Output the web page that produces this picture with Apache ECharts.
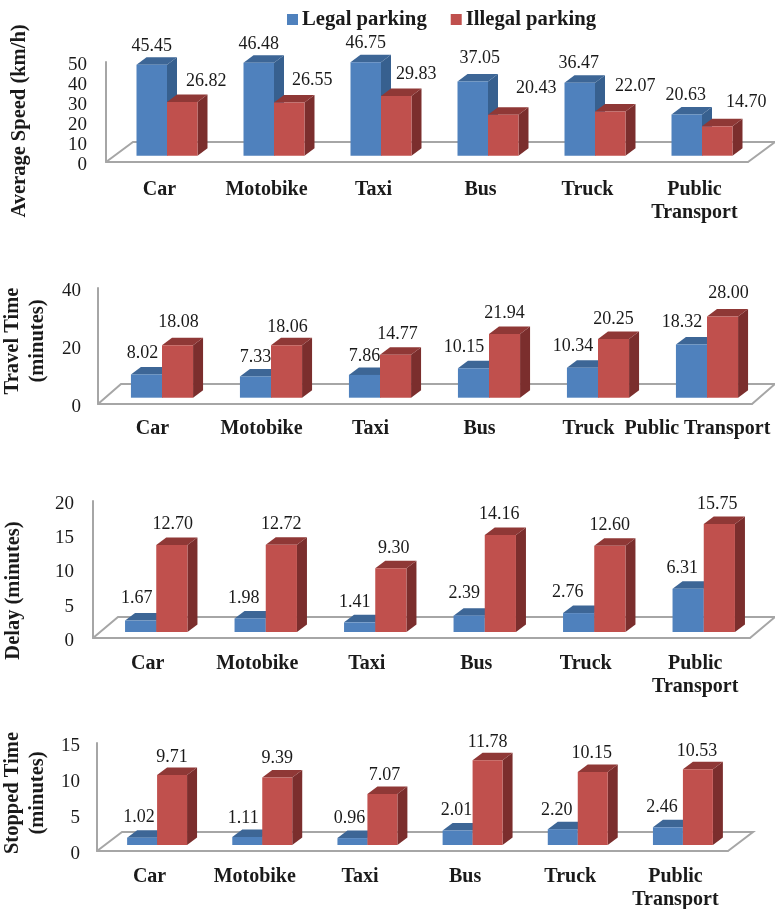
<!DOCTYPE html>
<html>
<head>
<meta charset="utf-8">
<title>Parking</title>
<script src="https://cdn.jsdelivr.net/npm/echarts@6/dist/echarts.min.js"></script>
<style>
html, body { margin: 0; padding: 0; background: #fff; }
#chart { width: 775px; height: 909px; }
</style>
</head>
<body>
<div id="chart"></div>
<script>
const seriesNames = ['Legal parking', 'Illegal parking']
const categories = ['Car', 'Motobike', 'Taxi', 'Bus', 'Truck', 'Public\nTransport']
const categoriesOneLine = ['Car', 'Motobike', 'Taxi', 'Bus', 'Truck', 'Public Transport']

const speedLegal = [45.45, 46.48, 46.75, 37.05, 36.47, 20.63]
const speedIllegal = [26.82, 26.55, 29.83, 20.43, 22.07, 14.70]
const travelLegal = [8.02, 7.33, 7.86, 10.15, 10.34, 18.32]
const travelIllegal = [18.08, 18.06, 14.77, 21.94, 20.25, 28.00]
const delayLegal = [1.67, 1.98, 1.41, 2.39, 2.76, 6.31]
const delayIllegal = [12.70, 12.72, 9.30, 14.16, 12.60, 15.75]
const stoppedLegal = [1.02, 1.11, 0.96, 2.01, 2.20, 2.46]
const stoppedIllegal = [9.71, 9.39, 7.07, 11.78, 10.15, 10.53]

const FONT = 'Liberation Serif'
const AXIS_GRAY = '#a6a6a6'
const BLUE = { front: '#4f81bd', side: '#37608f', top: '#3d6696' }
const RED = { front: '#c0504d', side: '#7b2e2d', top: '#8f3836' }
const DEPTH_X = 10
const DEPTH_Y = 7.5

// one entry per panel, shift = where the value labels sit relative to the top of the bar
const panels = [
  {
    title: 'Average Speed (km/h)', titleGap: 74, titlePad: [0, 18, 0, 0],
    left: 106, top: 62, right: 748, bottom: 162, max: 50, interval: 10, tickMargin: 19, catMargin: 16,
    floor: { x: 27, y: 20 }, lift: { x: 7.5, y: 6.3 },
    cats: categories, legal: speedLegal, illegal: speedIllegal,
    legalShift: [[0, -19], [0, -18], [0, -19], [7, -23], [-1, -19], [-1, -19]],
    illegalShift: [[24, -21], [23, -22], [20, -22], [33, -27], [25, -25], [29, -24]]
  },
  {
    title: 'Travel Time\n(minutes)', titleGap: 48, titlePad: [0, 0, 0, 10],
    left: 98, top: 288, right: 752, bottom: 404, max: 40, interval: 20, tickMargin: 17, catMargin: 13,
    floor: { x: 23, y: 20 }, lift: { x: 9.5, y: 6.3 },
    cats: categoriesOneLine, legal: travelLegal, illegal: travelIllegal,
    legalShift: [[-4, -21], [0, -19], [0, -19], [-9.5, -21], [-9.5, -21], [-9.5, -22]],
    illegalShift: [[1, -23], [1, -18], [2, -21], [0, -21], [0, -20], [6, -23]]
  },
  {
    title: 'Delay (minutes)', titleGap: 67, titlePad: [0, 42, 0, 0],
    left: 93, top: 501, right: 750, bottom: 638, max: 20, interval: 5, tickMargin: 19, catMargin: 14,
    floor: { x: 25, y: 21 }, lift: { x: 8.5, y: 6 },
    cats: categories, legal: delayLegal, illegal: delayIllegal,
    legalShift: [[-4, -22], [-6.5, -20], [-5, -20], [-5, -22], [-11, -21], [-6, -21]],
    illegalShift: [[1, -21], [0, -21], [3, -20], [-1, -21], [0, -20], [-2, -20]]
  },
  {
    title: 'Stopped Time\n(minutes)', titleGap: 47, titlePad: [0, 0, 0, 8],
    left: 97, top: 743, right: 728, bottom: 851, max: 15, interval: 5, tickMargin: 17, catMargin: 14,
    floor: { x: 25, y: 19 }, lift: { x: 7.5, y: 6 },
    cats: categories, legal: stoppedLegal, illegal: stoppedIllegal,
    legalShift: [[-3, -20], [-4, -19], [-3, -20], [-1, -20], [-6, -19], [-6, -20]],
    illegalShift: [[0, -18], [0, -19], [2, -19], [0, -18], [-1, -19], [-1, -18]]
  }
]

// back wall line and the two diagonals of the floor
function renderFloor(panel) {
  return function (params) {
    const cs = params.coordSys
    const bottom = cs.y + cs.height
    const right = cs.x + cs.width
    const lineStyle = { stroke: AXIS_GRAY, lineWidth: 2, fill: null }
    return {
      type: 'polyline',
      shape: {
        points: [
          [cs.x, bottom],
          [cs.x + panel.floor.x, bottom - panel.floor.y],
          [right + panel.floor.x, bottom - panel.floor.y],
          [right, bottom]
        ]
      },
      style: lineStyle,
      silent: true
    }
  }
}

// 3d looking bar: front, side and top faces, all from the axis scales
function renderBar(panel, side, colors, shifts) {
  return function (params, api) {
    const idx = api.value(0)
    const band = api.size([1, 0])[0]
    const w = band * 0.285
    const topPt = api.coord([idx, api.value(1)])
    const basePt = api.coord([idx, 0])
    const x0 = topPt[0] + panel.lift.x + (side < 0 ? -w : 0)
    const x1 = x0 + w
    const y0 = topPt[1] - panel.lift.y
    const y1 = basePt[1] - panel.lift.y
    const shift = shifts[params.dataIndex]
    return {
      type: 'group',
      children: [
        {
          type: 'polygon',
          shape: { points: [[x1, y0], [x1 + DEPTH_X, y0 - DEPTH_Y], [x1 + DEPTH_X, y1 - DEPTH_Y], [x1, y1]] },
          style: { fill: colors.side }
        },
        {
          type: 'polygon',
          shape: { points: [[x0, y0], [x0 + DEPTH_X, y0 - DEPTH_Y], [x1 + DEPTH_X, y0 - DEPTH_Y], [x1, y0]] },
          style: { fill: colors.top }
        },
        {
          type: 'rect',
          shape: { x: x0, y: y0, width: w, height: y1 - y0 },
          style: { fill: colors.front }
        },
        {
          type: 'text',
          z2: 50,
          style: {
            x: (x0 + x1) / 2 + shift[0],
            y: y0 + shift[1],
            text: api.value(1).toFixed(2),
            fill: '#1a1a1a',
            font: '18px "' + FONT + '"',
            align: 'center',
            verticalAlign: 'middle'
          }
        }
      ]
    }
  }
}

const grids = []
const xAxes = []
const yAxes = []
const series = []

panels.forEach(function (panel, i) {
  grids.push({
    left: panel.left,
    top: panel.top,
    width: panel.right - panel.left,
    height: panel.bottom - panel.top,
    outerBoundsMode: 'none'
  })
  xAxes.push({
    type: 'category',
    gridIndex: i,
    data: panel.cats,
    axisTick: { show: false },
    axisLine: { lineStyle: { color: AXIS_GRAY, width: 2 } },
    axisLabel: {
      interval: 0,
      margin: panel.catMargin,
      color: '#1a1a1a',
      fontFamily: FONT,
      fontWeight: 'bold',
      fontSize: 20,
      lineHeight: 23
    }
  })
  yAxes.push({
    type: 'value',
    gridIndex: i,
    min: 0,
    max: panel.max,
    interval: panel.interval,
    name: panel.title,
    nameLocation: 'middle',
    nameRotate: 90,
    nameGap: panel.titleGap,
    nameTextStyle: {
      color: '#1a1a1a',
      fontFamily: FONT,
      fontWeight: 'bold',
      fontSize: 20.5,
      lineHeight: 25,
      padding: panel.titlePad
    },
    splitLine: { show: false },
    axisTick: { show: false },
    axisLine: { show: true, lineStyle: { color: AXIS_GRAY, width: 2 } },
    axisLabel: {
      margin: panel.tickMargin,
      color: '#1a1a1a',
      fontFamily: FONT,
      fontSize: 19,
      verticalAlign: 'top',
      lineHeight: 6
    }
  })
  series.push({
    type: 'custom',
    xAxisIndex: i,
    yAxisIndex: i,
    silent: true,
    data: [[0, 0]],
    renderItem: renderFloor(panel)
  })
  series.push({
    type: 'custom',
    name: seriesNames[0],
    xAxisIndex: i,
    yAxisIndex: i,
    itemStyle: { color: BLUE.front },
    data: panel.legal.map(function (v, k) { return [k, v] }),
    renderItem: renderBar(panel, -1, BLUE, panel.legalShift)
  })
  series.push({
    type: 'custom',
    name: seriesNames[1],
    xAxisIndex: i,
    yAxisIndex: i,
    itemStyle: { color: RED.front },
    data: panel.illegal.map(function (v, k) { return [k, v] }),
    renderItem: renderBar(panel, 1, RED, panel.illegalShift)
  })
})

const chart = echarts.init(document.getElementById('chart'))
chart.setOption({
  animation: false,
  backgroundColor: '#fff',
  legend: {
    data: seriesNames,
    left: 287,
    top: 9,
    padding: 0,
    icon: 'rect',
    itemWidth: 11,
    itemHeight: 11,
    itemGap: 24,
    textStyle: { color: '#1a1a1a', fontFamily: FONT, fontWeight: 'bold', fontSize: 20.7, padding: [0, 0, 0, -1] }
  },
  grid: grids,
  xAxis: xAxes,
  yAxis: yAxes,
  series: series
})
</script>
</body>
</html>
